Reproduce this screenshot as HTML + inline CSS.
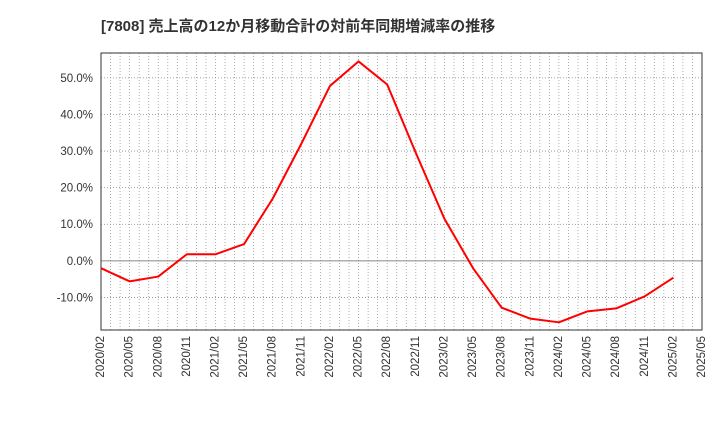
<!DOCTYPE html>
<html><head><meta charset="utf-8"><style>
body{margin:0;background:#fff;width:720px;height:440px;overflow:hidden;font-family:"Liberation Sans","Noto Sans CJK JP",sans-serif;}
</style></head><body>
<svg id="chart" width="720" height="440" xmlns="http://www.w3.org/2000/svg">
<text x="101" y="31" font-size="15" font-weight="bold" fill="#333" font-family="Liberation Sans, Noto Sans CJK JP, sans-serif">[7808]  売上高の12か月移動合計の対前年同期増減率の推移</text>
<g id="grid"></g><g id="axes"></g><g id="series"></g>
</svg>
<script>
const categories=["2020/02","2020/05","2020/08","2020/11","2021/02","2021/05","2021/08","2021/11","2022/02","2022/05","2022/08","2022/11","2023/02","2023/05","2023/08","2023/11","2024/02","2024/05","2024/08","2024/11","2025/02","2025/05"];
const values=[-2.0,-5.6,-4.3,1.8,1.8,4.6,17,32,47.8,54.5,48.2,29.5,11.5,-2,-12.8,-15.8,-16.8,-13.8,-13,-9.7,-4.6];
const yTicks=[-10,0,10,20,30,40,50];
const yTickLabels=["-10.0%","0.0%","10.0%","20.0%","30.0%","40.0%","50.0%"];
const L=101,R=702,T=53,B=330,yMin=-18.9,yMax=56.8;
const ns="http://www.w3.org/2000/svg";
const x=i=>L+(R-L)*i/(categories.length-1);
const y=v=>B-(v-yMin)/(yMax-yMin)*(B-T);
function mk(t,a,p){const e=document.createElementNS(ns,t);for(const k in a)e.setAttribute(k,a[k]);p.appendChild(e);return e;}
const grid=document.getElementById('grid'),axes=document.getElementById('axes'),series=document.getElementById('series');
for(let m=1;m<(categories.length-1)*3;m++){
 const gx=x(m/3);
 const gl=mk('line',{x1:gx,x2:gx,y1:T,y2:B,stroke:'#999','stroke-width':0.8,'stroke-dasharray':'1,2'},grid);
 
 
}
categories.forEach((c,i)=>{
 const tx=x(i),ty=B+6;
 const t=mk('text',{x:tx,y:ty,'font-size':11.5,fill:'#333','text-anchor':'end',transform:`rotate(-90 ${tx} ${ty})`,'dominant-baseline':'middle'},axes);
 t.textContent=c;
 
 
});
yTicks.forEach((v,i)=>{
 const gl=mk('line',{x1:L,x2:R,y1:y(v),y2:y(v),stroke:'#888','stroke-width':v===0?1:0.8,'stroke-dasharray':v===0?'':'1,2'},grid);
 
 
 const t=mk('text',{x:L-8,y:y(v)+4,'font-size':11.5,fill:'#333','text-anchor':'end'},axes);
 t.textContent=yTickLabels[i];
 
 
});
const fr=mk('rect',{x:L,y:T,width:R-L,height:B-T,fill:'none',stroke:'#333','stroke-width':1},axes);


const pl=mk('polyline',{points:values.map((v,i)=>x(i)+','+y(v)).join(' '),fill:'none',stroke:'#f00','stroke-width':2,'stroke-linejoin':'round'},series);


</script>
</body></html>
